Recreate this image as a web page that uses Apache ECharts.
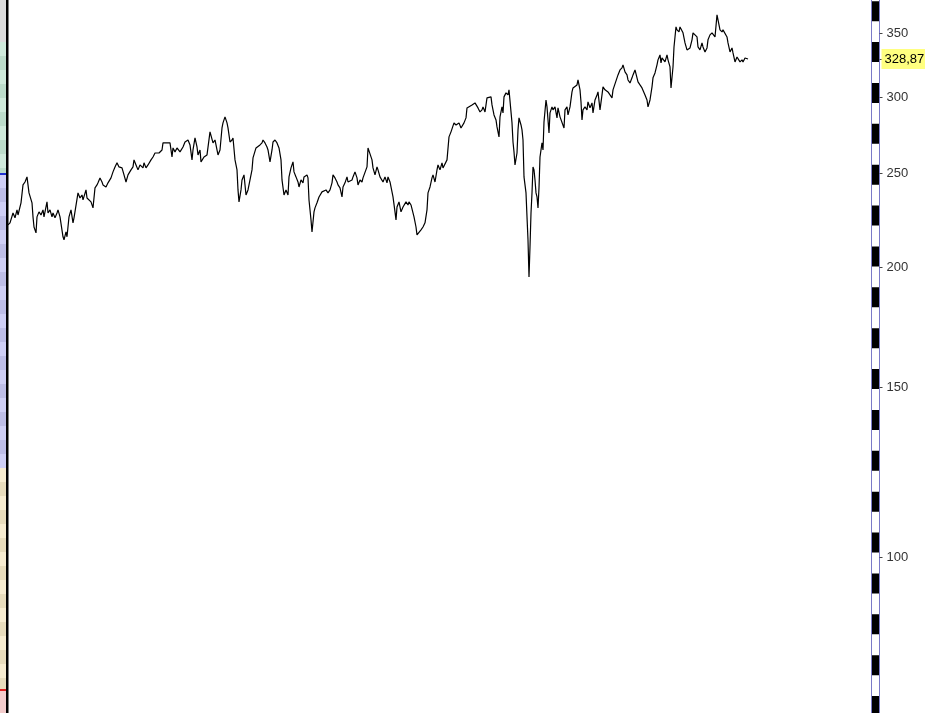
<!DOCTYPE html>
<html><head><meta charset="utf-8">
<script src="https://cdn.jsdelivr.net/npm/echarts@6/dist/echarts.min.js"></script>
<style>html,body{margin:0;padding:0;background:#fff}#c{width:925px;height:713px}</style>
</head><body><div id="c"></div>
<script>
// trading-day index of each close (0 = first close shown)
const days = [
0,2,5,7,9,10,13,15,17,19,21,24,25,26,28,29,31,33,35,36,39,40,42,44,45,47,49,50,52,54,55,56,58,59,61,63,65,66,68,70,72,74,75,78,79,81,83,85,87,89,90,92,94,95,98,100,103,105,107,109,111,114,116,118,120,123,125,126,128,130,132,135,136,138,140,143,145,147,149,151,154,155,159,162,164,165,167,169,172,175,177,
180,182,184,185,187,189,190,192,193,195,196,199,200,202,204,205,207,209,210,212,214,215,217,219,220,222,224,225,227,229,230,231,233,234,236,238,240,242,244,245,248,250,252,254,255,257,259,260,262,264,265,267,269,271,273,274,276,278,280,281,283,285,286,288,290,291,293,295,296,299,300,301,303,304,306,307,309,311,313,314,316,318,320,322,324,325,327,329,330,332,334,335,337,339,340,342,344,345,347,349,350,352,354,355,357,359,360,
362,364,365,367,369,370,372,374,375,377,379,380,382,384,385,387,388,389,391,393,395,396,398,400,401,403,405,406,408,409,411,413,415,417,419,420,422,424,425,427,429,430,432,434,435,437,439,440,441,443,445,446,448,450,451,453,455,456,458,459,461,464,465,467,469,470,472,474,475,477,478,479,481,483,484,486,488,489,491,492,494,495,496,498,500,501,503,504,505,506,507,509,510,511,513,514,515,516,518,519,520,521,522,523,524,525,526,527,528,529,530,531,532,534,535,536,538,539,541,542,544,545,
547,549,550,552,554,556,557,559,560,562,564,565,567,569,570,572,573,574,575,577,579,580,582,584,585,587,589,590,592,594,595,597,599,600,602,604,605,607,609,610,612,614,615,617,619,620,622,624,625,627,629,630,632,634,635,637,639,640,642,644,645,647,649,650,652,653,654,656,657,659,660,662,663,664,665,666,668,669,671,672,674,675,677,679,680,682,684,685,687,689,690,692,694,695,697,699,700,702,704,705,707,709,710,712,714,715,717,719,720,722,724,725,727,729,730,732,734,735,737,739,740
];
// closing prices, oldest to newest
const values = [
221.2,222.3,227.6,225.0,229.3,226.5,233.2,243.4,245.1,248.1,238.8,233.2,225.5,220.1,217.0,225.5,228.2,226.5,229.3,225.5,233.7,227.6,229.3,225.5,227.6,225.0,227.6,229.3,225.5,226.5,215.0,213.4,217.5,215.0,225.5,229.3,222.3,225.0,225.0,238.8,235.9,237.6,234.8,240.5,235.9,236.5,233.7,230.4,241.7,243.4,244.6,247.5,245.1,243.4,242.2,244.6,247.5,251.1,254.1,256.6,254.1,253.5,249.3,245.1,249.3,252.3,254.1,258.4,255.3,252.3,255.3,253.5,256.6,253.5,255.3,258.4,260.2,262.7,261.5,262.7,264.6,269.1,269.1,269.1,260.2,265.9,263.4,265.9,263.4,266.5,269.7,
271.0,267.8,258.4,264.6,272.3,266.5,261.5,264.6,257.2,257.2,260.2,261.5,262.7,276.3,275.6,269.1,271.0,264.6,261.5,264.6,278.9,282.3,286.4,282.3,278.9,269.7,271.0,272.3,258.4,252.3,240.5,233.7,240.5,246.3,249.3,237.6,240.5,246.3,252.3,259.6,265.9,266.5,267.8,269.1,271.0,269.1,266.5,264.6,257.2,264.6,269.7,271.0,269.1,265.9,258.4,246.3,237.6,240.5,237.6,248.1,253.5,257.2,251.1,248.1,245.1,242.2,246.3,244.6,248.1,249.3,247.5,234.8,223.9,217.5,228.2,230.4,233.2,236.5,235.9,239.4,238.8,240.5,238.8,240.5,244.6,249.3,247.5,245.1,243.4,241.7,236.5,242.2,244.6,248.1,245.1,245.1,246.3,248.1,251.1,247.5,243.4,246.3,245.1,247.5,247.5,254.1,265.9,
266.5,258.4,253.5,249.3,254.1,252.3,248.1,247.5,245.1,248.1,244.6,248.1,245.1,244.6,236.5,228.2,223.9,230.9,233.7,228.2,230.9,232.0,233.7,232.0,233.7,232.0,230.9,225.5,220.1,216.0,216.0,218.6,220.1,222.3,229.3,238.8,242.2,247.5,249.3,245.1,252.3,255.3,252.3,256.6,253.5,254.1,258.4,257.2,273.0,276.3,277.6,282.3,280.9,279.6,282.3,278.9,279.6,282.3,285.7,292.6,293.3,294.7,296.1,296.1,294.7,292.6,289.8,291.2,293.3,289.8,294.7,299.7,299.7,300.4,294.7,287.7,284.3,279.6,273.0,286.4,293.3,289.1,300.4,303.3,301.8,305.5,289.8,282.3,269.7,263.4,255.3,262.7,277.6,285.7,280.9,277.6,271.0,248.1,238.8,225.5,213.4,195.3,209.9,227.6,238.8,254.1,252.3,246.3,238.8,236.5,230.4,241.7,260.2,269.1,264.6,283.0,298.2,293.3,275.6,289.1,293.3,291.2,
293.3,285.7,292.6,286.4,287.7,278.9,291.2,293.3,287.7,293.3,304.0,306.9,305.5,309.1,312.8,305.5,296.8,284.3,291.2,293.3,291.2,296.8,292.6,296.1,289.1,298.2,301.8,304.0,291.2,301.8,307.7,305.5,306.9,304.0,301.8,299.7,305.5,305.5,314.4,316.6,320.4,322.0,324.3,318.9,316.6,312.8,310.6,314.4,316.6,320.4,314.4,311.4,309.1,306.9,307.7,301.8,298.2,293.3,298.2,307.7,314.4,318.1,324.3,328.2,332.1,325.8,329.7,330.5,326.6,332.1,328.2,322.7,306.9,305.5,322.7,338.5,355.1,352.6,350.9,355.1,356.8,350.1,341.8,336.1,334.5,337.7,344.3,350.1,350.1,346.7,338.5,336.1,341.8,338.5,334.5,337.7,344.3,348.4,350.1,350.9,346.7,365.5,361.1,352.6,350.9,352.6,352.6,346.7,341.8,334.5,337.7,333.7,326.6,330.5,329.7,326.6,328.2,326.6,329.7,330.5,328.87
];
const lastLabel = '328,87';
const tickValues = [100, 150, 200, 250, 300, 350];
const yMin = 68.87, yMax = 378.7;
const dayWindow = 867.5; // visible time window incl. blank space after the last close

const n = Math.min(days.length, values.length);
const data = [];
for (let i = 0; i < n; i++) data.push([days[i], values[i]]);
const lastValue = values[n - 1];

const baseAxis = {type: 'log', logBase: 10, position: 'right', min: yMin, max: yMax,
  splitLine: {show: false}, axisTick: {show: false}, axisLabel: {show: false}};

// left strip bands (decoration)
const strip = [];
const bandDefs = [
  {y0: 0, y1: 42, c1: '#dcdcdc', c2: '#dcdcdc'},
  {y0: 42, y1: 174, c1: '#cfeadb', c2: '#bcdcca'},
  {y0: 174, y1: 468, c1: '#cfcff5', c2: '#bdbde6'},
  {y0: 468, y1: 690, c1: '#f7ecd0', c2: '#e8dcbc'},
  {y0: 690, y1: 713, c1: '#f3cccc', c2: '#f3cccc'}
];
bandDefs.forEach(b => {
  let k = 0;
  for (let y = b.y0; y < b.y1; y += 14) {
    strip.push({type: 'rect', shape: {x: 0, y: y, width: 6, height: Math.min(14, b.y1 - y)},
      style: {fill: k % 2 ? b.c2 : b.c1}, silent: true});
    k++;
  }
});
strip.push({type: 'rect', shape: {x: 0, y: 173, width: 6, height: 2}, style: {fill: '#2030d0'}});
strip.push({type: 'rect', shape: {x: 0, y: 689, width: 6, height: 2}, style: {fill: '#e02020'}});
strip.push({type: 'rect', shape: {x: 6, y: 0, width: 2.5, height: 713}, style: {fill: '#000'}});

const labelFont = 'Liberation Sans, Arial, sans-serif';
const chart = echarts.init(document.getElementById('c'), null, {renderer: 'canvas'});
chart.setOption({
  animation: false,
  backgroundColor: '#ffffff',
  grid: {left: 8, right: 49.5, top: 0, bottom: 0, containLabel: false},
  xAxis: {type: 'value', min: 0, max: dayWindow, show: false},
  yAxis: [
    Object.assign({}, baseAxis, {axisLine: {show: true, onZero: false, lineStyle: {color: '#7b7bc8', width: 9, cap: 'butt'}}}),
    Object.assign({}, baseAxis, {axisLine: {show: true, onZero: false, lineStyle: {color: '#ffffff', width: 7, cap: 'butt'}}}),
    Object.assign({}, baseAxis, {axisLine: {show: true, onZero: false, lineStyle: {color: '#000000', width: 7, cap: 'butt', type: [20, 20.87], dashOffset: 3}}}),
    Object.assign({}, baseAxis, {
      offset: 4,
      axisLine: {show: false, onZero: false},
      axisTick: {show: true, length: 3, lineStyle: {color: '#444', width: 1}, customValues: tickValues.concat([lastValue])},
      axisLabel: {show: true, customValues: tickValues, margin: 7, color: '#333',
        fontFamily: labelFont, fontSize: 13}
    })
  ],
  graphic: {elements: strip},
  series: [{
    type: 'line',
    yAxisIndex: 0,
    data: data,
    showSymbol: false,
    symbol: 'none',
    lineStyle: {color: '#000', width: 1.2},
    z: 5,
    markLine: {
      silent: true,
      symbol: ['none', 'none'],
      lineStyle: {color: 'rgba(0,0,0,0)', width: 1, type: 'solid'},
      label: {show: true, position: 'end', distance: 6, formatter: lastLabel,
        backgroundColor: '#ffff80', color: '#000', padding: [4, 4, 3, 3],
        fontFamily: labelFont, fontSize: 13},
      data: [{yAxis: lastValue}]
    }
  }]
});
</script>
</body></html>
